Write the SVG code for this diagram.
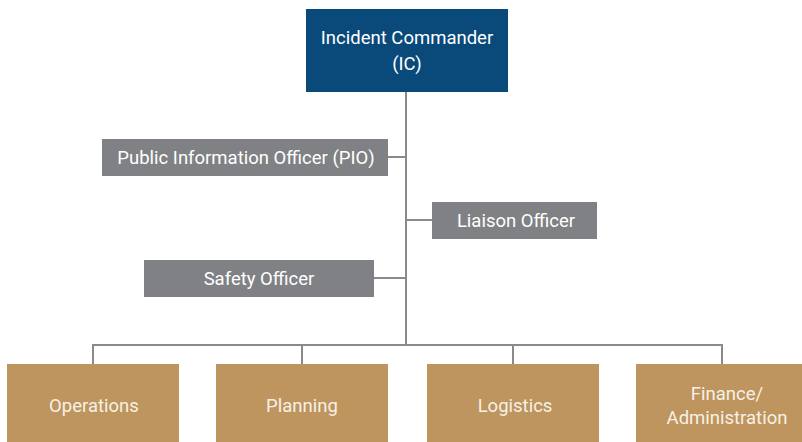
<svg xmlns="http://www.w3.org/2000/svg" width="802" height="442" viewBox="0 0 802 442">
<style>
.ic{fill:#0a4a7a}
.staff{fill:#808184}
.sec{fill:#be955e}
.t{font-family:Roboto,"Liberation Sans",sans-serif;font-size:18.5px;text-anchor:middle}
.tw{fill:#ffffff}
.tg{fill:#f7f1e6}
.ln{stroke:#8a8a8c;stroke-width:2;fill:none}
</style>
<rect width="802" height="442" fill="#ffffff"/>
<g id="connectors">
<path class="ln" d="M406 92 V345"/>
<path class="ln" d="M388 157 H406"/>
<path class="ln" d="M406 220 H432"/>
<path class="ln" d="M374 278 H406"/>
<path class="ln" d="M93 364 V345 H722 V364"/>
<path class="ln" d="M302 345 V364"/>
<path class="ln" d="M513 345 V364"/>
</g>
<g id="ic">
<rect class="ic" x="306" y="9" width="202" height="83"/>
<text class="t tw" x="407" y="44">Incident Commander</text>
<text class="t tw" x="407" y="70">(IC)</text>
</g>
<g id="pio">
<rect class="staff" x="102" y="139" width="286" height="37"/>
<text class="t tw" x="246" y="164">Public Information Officer (PIO)</text>
</g>
<g id="liaison">
<rect class="staff" x="432" y="202" width="165" height="37"/>
<text class="t tw" x="516" y="227">Liaison Officer</text>
</g>
<g id="safety">
<rect class="staff" x="144" y="260" width="230" height="37"/>
<text class="t tw" x="259" y="285">Safety Officer</text>
</g>
<g id="operations">
<rect class="sec" x="7" y="364" width="172" height="84"/>
<text class="t tg" x="94" y="412">Operations</text>
</g>
<g id="planning">
<rect class="sec" x="216" y="364" width="172" height="84"/>
<text class="t tg" x="302" y="412">Planning</text>
</g>
<g id="logistics">
<rect class="sec" x="427" y="364" width="172" height="84"/>
<text class="t tg" x="515" y="412">Logistics</text>
</g>
<g id="finance">
<rect class="sec" x="636" y="364" width="172" height="84"/>
<text class="t tg" x="727" y="400">Finance/</text>
<text class="t tg" x="727" y="424">Administration</text>
</g>
</svg>
